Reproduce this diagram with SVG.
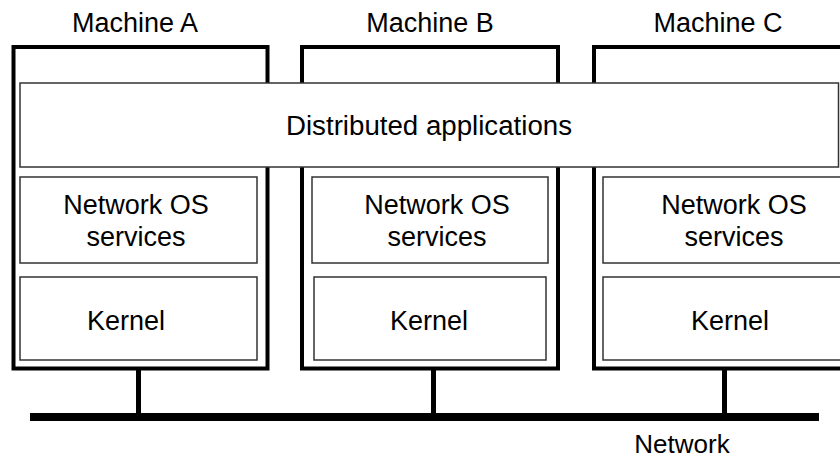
<svg xmlns="http://www.w3.org/2000/svg" width="840" height="460" viewBox="0 0 840 460">
<style>
text{font-family:"Liberation Sans",Arial,sans-serif;font-size:27px;fill:#000;text-anchor:middle}
.machine{fill:#fff;stroke:#000;stroke-width:4}
.layer{fill:#fff;stroke:#333;stroke-width:1.5}
.link{stroke:#000;stroke-width:5;fill:none}
.bus{stroke:#000;stroke-width:8;fill:none}
</style>
<rect width="840" height="460" fill="#fff"/>
<g id="machineA">
<text x="135" y="32">Machine A</text>
<rect class="machine" x="13.5" y="47" width="254" height="321.5"/>
</g>
<g id="machineB">
<text x="430" y="32">Machine B</text>
<rect class="machine" x="302" y="47" width="256" height="321.5"/>
</g>
<g id="machineC">
<text x="718" y="32">Machine C</text>
<rect class="machine" x="594" y="47" width="262" height="321.5"/>
</g>
<g id="distributed-applications">
<rect class="layer" x="20" y="83" width="818.5" height="84"/>
<text x="429" y="135" textLength="286" lengthAdjust="spacingAndGlyphs">Distributed applications</text>
</g>
<g id="netos-A">
<rect class="layer" x="20" y="177" width="237" height="86"/>
<text x="136" y="214">Network OS</text>
<text x="136" y="246">services</text>
</g>
<g id="netos-B">
<rect class="layer" x="312" y="177" width="236" height="86"/>
<text x="437" y="214">Network OS</text>
<text x="437" y="246">services</text>
</g>
<g id="netos-C">
<rect class="layer" x="603" y="177" width="240" height="86"/>
<text x="734" y="214">Network OS</text>
<text x="734" y="246">services</text>
</g>
<g id="kernel-A">
<rect class="layer" x="20" y="277" width="237" height="83"/>
<text x="126" y="330">Kernel</text>
</g>
<g id="kernel-B">
<rect class="layer" x="314" y="277" width="232" height="83"/>
<text x="429" y="330">Kernel</text>
</g>
<g id="kernel-C">
<rect class="layer" x="603" y="277" width="240" height="83"/>
<text x="730" y="330">Kernel</text>
</g>
<g id="network">
<text x="682" y="453" style="font-size:26px">Network</text>
</g>
<g id="connectors">
<line class="link" x1="138.5" y1="370" x2="138.5" y2="414"/>
<line class="link" x1="433.5" y1="370" x2="433.5" y2="414"/>
<line class="link" x1="724.5" y1="370" x2="724.5" y2="414"/>
<line class="bus" x1="30" y1="417" x2="819" y2="417"/>
</g>
</svg>
